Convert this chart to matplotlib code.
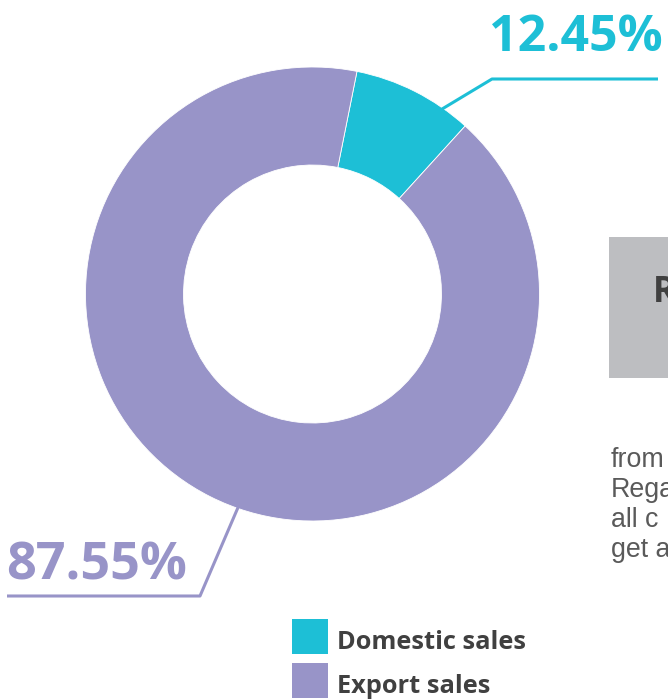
import matplotlib
matplotlib.use("Agg")
import matplotlib.pyplot as plt
from matplotlib.patches import Rectangle
import numpy as np

# ---- data ----
categories = ["Domestic sales", "Export sales"]
shares_drawn = [8.6, 91.4]          # wedge sizes
share_labels = ["12.45%", "87.55%"]  # printed labels
colors = ["#1DBFD6", "#9894C8"]
side_title = "R"
side_lines = ["from", "Rega", "all c", "get a"]

W, H = 668, 699
fig = plt.figure(figsize=(W / 100, H / 100), dpi=100)
ax = fig.add_axes([0, 0, 1, 1])

def Y(py):
    return H - py

cx, cy, R, r_in = 312.5, Y(294), 227, 129
wedges, _ = ax.pie(shares_drawn, colors=colors, startangle=90 - 11.3,
                   counterclock=False, radius=R, center=(cx, cy),
                   wedgeprops=dict(width=R - r_in, edgecolor="white", linewidth=0.6))
ax.set_xlim(0, W)
ax.set_ylim(0, H)
ax.set_aspect("equal")
ax.axis("off")

FONT = "Open Sans"

def edge_point(theta_deg_cw_from_top, rad):
    t = np.deg2rad(90 - theta_deg_cw_from_top)
    return cx + rad * np.cos(t), cy + rad * np.sin(t)

# leader line for domestic
x0, y0 = edge_point(34.8, 224)
ax.plot([x0, 492, 658], [y0, Y(79), Y(79)], color=colors[0], lw=2.2, solid_capstyle="butt")
ax.text(489, Y(51), share_labels[0], color=colors[0], fontsize=36, fontweight="bold",
        family=FONT, ha="left", va="baseline")

# leader line for export
x1, y1 = edge_point(199.2, 224)
ax.plot([x1, 200, 7], [y1, Y(596), Y(596)], color=colors[1], lw=2.2, solid_capstyle="butt")
ax.text(6, Y(580), share_labels[1], color=colors[1], fontsize=37.5, fontweight="bold",
        family=FONT, ha="left", va="baseline")

# legend
for i, (cat, col) in enumerate(zip(categories, colors)):
    top = 619 + i * 44
    ax.add_patch(Rectangle((292, Y(top + 35)), 36, 35, facecolor=col, edgecolor="none",
                           clip_on=False))
    ax.text(337, Y(649 + i * 44), cat, color="#404040", fontsize=18.3, fontweight="bold",
            family=FONT, ha="left", va="baseline")

# side box (cropped at the figure edge)
ax.add_patch(Rectangle((609, Y(378)), 200, 141, facecolor="#BDBEC1", edgecolor="none",
                       clip_on=False))
ax.text(653, Y(302), side_title, color="#404040", fontsize=25, fontweight="bold",
        family=FONT, ha="left", va="baseline")

for i, line in enumerate(side_lines):
    ax.text(611, Y(467 + i * 30), line, color="#5a5a5a", fontsize=19.3,
            family="Liberation Sans", ha="left", va="baseline")

fig.savefig("out.png", dpi=100)
